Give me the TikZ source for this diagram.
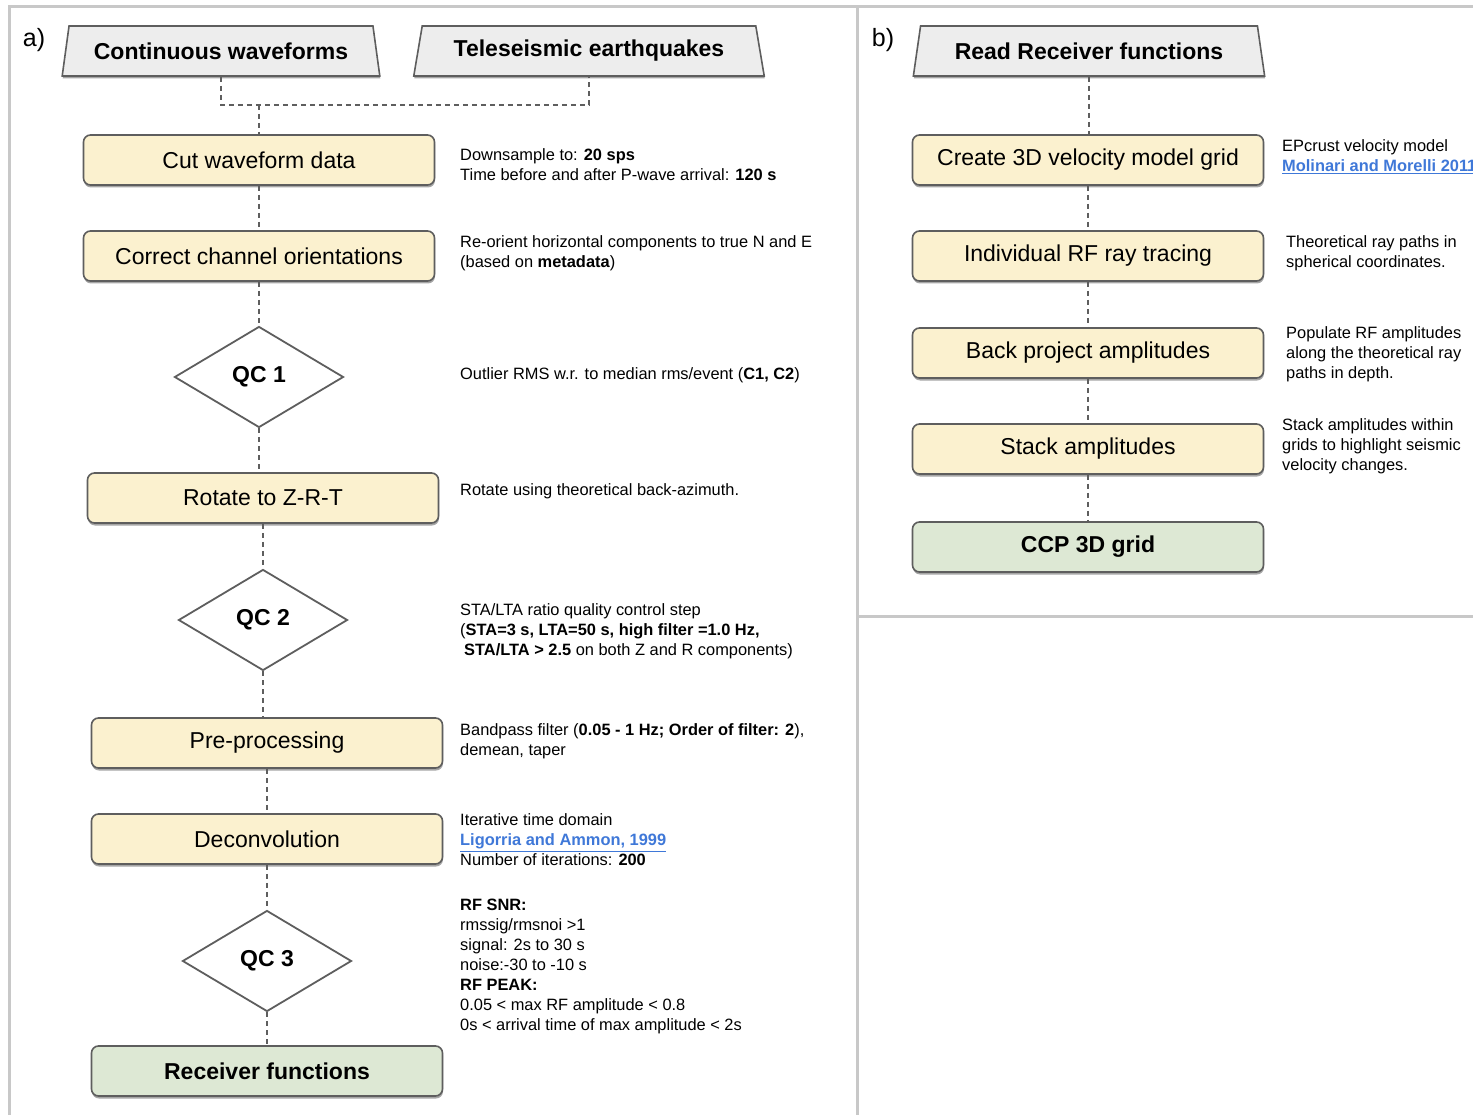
\documentclass[tikz,border=0pt]{standalone}
\usepackage{fontspec}
\setmainfont{Liberation Sans}
\usetikzlibrary{shapes.geometric,shadows}

\definecolor{framegray}{HTML}{C8C8C8}
\definecolor{boxline}{HTML}{5E5E5E}
\definecolor{procfill}{HTML}{FBF1CF}
\definecolor{endfill}{HTML}{DDE8D4}
\definecolor{inputfill}{HTML}{EDEDED}
\definecolor{linkblue}{HTML}{3F78D8}

\newcommand{\reflink}[1]{\textcolor{linkblue}{\underline{\textbf{#1}}}}

\tikzset{
  boxshadow/.style={drop shadow={shadow xshift=0.5pt, shadow yshift=-2.5pt, fill=black, opacity=0.35}},
  procbox/.style={rectangle, rounded corners=7pt, draw=boxline, line width=1.6pt,
    fill=procfill, minimum width=351pt, minimum height=50pt,
    font=\fontsize{23}{27}\selectfont, boxshadow},
  endbox/.style={procbox, fill=endfill, font=\fontsize{23}{27}\selectfont\bfseries},
  inbox/.style={trapezium, trapezium stretches=true, trapezium left angle=76,
    trapezium right angle=76, draw=boxline, line width=1.6pt, fill=inputfill,
    minimum height=50pt, font=\fontsize{23}{27}\selectfont\bfseries, boxshadow},
  qcbox/.style={diamond, draw=boxline, line width=1.8pt, fill=white, inner sep=0pt,
    minimum width=169pt, minimum height=101pt, font=\fontsize{23}{27}\selectfont\bfseries},
  note/.style={anchor=west, align=left, inner sep=0pt, font=\fontsize{16.4}{20}\selectfont},
  flow/.style={draw=boxline, line width=1.1pt, dash pattern=on 5pt off 4pt},
  panel/.style={draw=framegray, line width=3pt}
}

\begin{document}
\begin{tikzpicture}[x=1pt,y=-1pt]
\useasboundingbox (0,0) rectangle (1473,1115);

% panel frames
\draw[panel] (9,1115) -- (9,7) -- (1473,7);
\draw[panel] (857,7) -- (857,1115);
\draw[panel] (857,616) -- (1473,616);

\node[font=\fontsize{25}{29}\selectfont] (labela) at (34,40) {a)};
\node[font=\fontsize{25}{29}\selectfont] (labelb) at (883,40) {b)};

% ---- a) receiver function calculation
\node[inbox, minimum width=318pt] (cont) at (221,51) {Continuous waveforms};
\node[inbox, minimum width=352pt] (tele) at (589,51) {Teleseismic earthquakes};
\coordinate (join) at (259,105);

\node[procbox] (cut) at (259,160) {Cut waveform data};
\node[procbox] (orient) at (259,256) {Correct channel orientations};
\node[qcbox] (qca) at (259,377) {QC 1};
\node[procbox] (rotate) at (263,498) {Rotate to Z-R-T};
\node[qcbox] (qcb) at (263,620) {QC 2};
\node[procbox] (prep) at (267,743) {Pre-processing};
\node[procbox] (decon) at (267,839) {Deconvolution};
\node[qcbox] (qcc) at (267,961) {QC 3};
\node[endbox] (rfs) at (267,1071) {Receiver functions};

\draw[flow] (cont.south) |- (join) -| (tele.south);
\draw[flow] (join) -- (cut.north);
\draw[flow] (cut.south) -- (orient.north);
\draw[flow] (orient.south) -- (qca.north);
\draw[flow] (qca.south) -- (qca.south |- rotate.north);
\draw[flow] (rotate.south) -- (qcb.north);
\draw[flow] (qcb.south) -- (qcb.south |- prep.north);
\draw[flow] (prep.south) -- (decon.north);
\draw[flow] (decon.south) -- (qcc.north);
\draw[flow] (qcc.south) -- (rfs.north);

\node[note] (cutnote) at (460,165) {Downsample to: \textbf{20 sps}\\Time before and after P-wave arrival: \textbf{120 s}};
\node[note] (orientnote) at (460,253) {Re-orient horizontal components to true N and E\\(based on \textbf{metadata})};
\node[note] (qcanote) at (460,375) {Outlier RMS w.r. to median rms/event (\textbf{C1, C2})};
\node[note] (rotatenote) at (460,491) {Rotate using theoretical back-azimuth.};
\node[note] (qcbnote) at (460,631) {STA/LTA ratio quality control step\\(\textbf{STA=3 s, LTA=50 s, high filter =1.0 Hz,}\\\hspace*{4pt}\textbf{STA/LTA \textgreater{} 2.5} on both Z and R components)};
\node[note] (prepnote) at (460,741) {Bandpass filter (\textbf{0.05 - 1 Hz; Order of filter: 2}),\\demean, taper};
\node[note] (deconnote) at (460,840) {Iterative time domain\\\reflink{Ligorria and Ammon, 1999}\\Number of iterations: \textbf{200}};
\node[note] (qccnote) at (460,966) {\textbf{RF SNR:}\\rmssig/rmsnoi \textgreater1\\signal: 2s to 30 s\\noise:-30 to -10 s\\\textbf{RF PEAK:}\\0.05 \textless{} max RF amplitude \textless{} 0.8\\0s \textless{} arrival time of max amplitude \textless{} 2s};

% ---- b) CCP stacking
\node[inbox, minimum width=352pt] (readrf) at (1089,51) {Read Receiver functions};
\node[procbox] (velgrid) at (1088,160) {Create 3D velocity model grid};
\node[procbox] (raytrace) at (1088,256) {Individual RF ray tracing};
\node[procbox] (backproj) at (1088,353) {Back project amplitudes};
\node[procbox] (stackamp) at (1088,449) {Stack amplitudes};
\node[endbox] (ccpgrid) at (1088,547) {CCP 3D grid};

\draw[flow] (readrf.south) -- (readrf.south |- velgrid.north);
\draw[flow] (velgrid.south) -- (raytrace.north);
\draw[flow] (raytrace.south) -- (backproj.north);
\draw[flow] (backproj.south) -- (stackamp.north);
\draw[flow] (stackamp.south) -- (ccpgrid.north);

\node[note] (velnote) at (1282,157) {EPcrust velocity model\\\reflink{Molinari and Morelli 2011}};
\node[note] (raynote) at (1286,253) {Theoretical ray paths in\\spherical coordinates.};
\node[note] (backnote) at (1286,354) {Populate RF amplitudes\\along the theoretical ray\\paths in depth.};
\node[note] (stacknote) at (1282,446) {Stack amplitudes within\\grids to highlight seismic\\velocity changes.};
\end{tikzpicture}
\end{document}
